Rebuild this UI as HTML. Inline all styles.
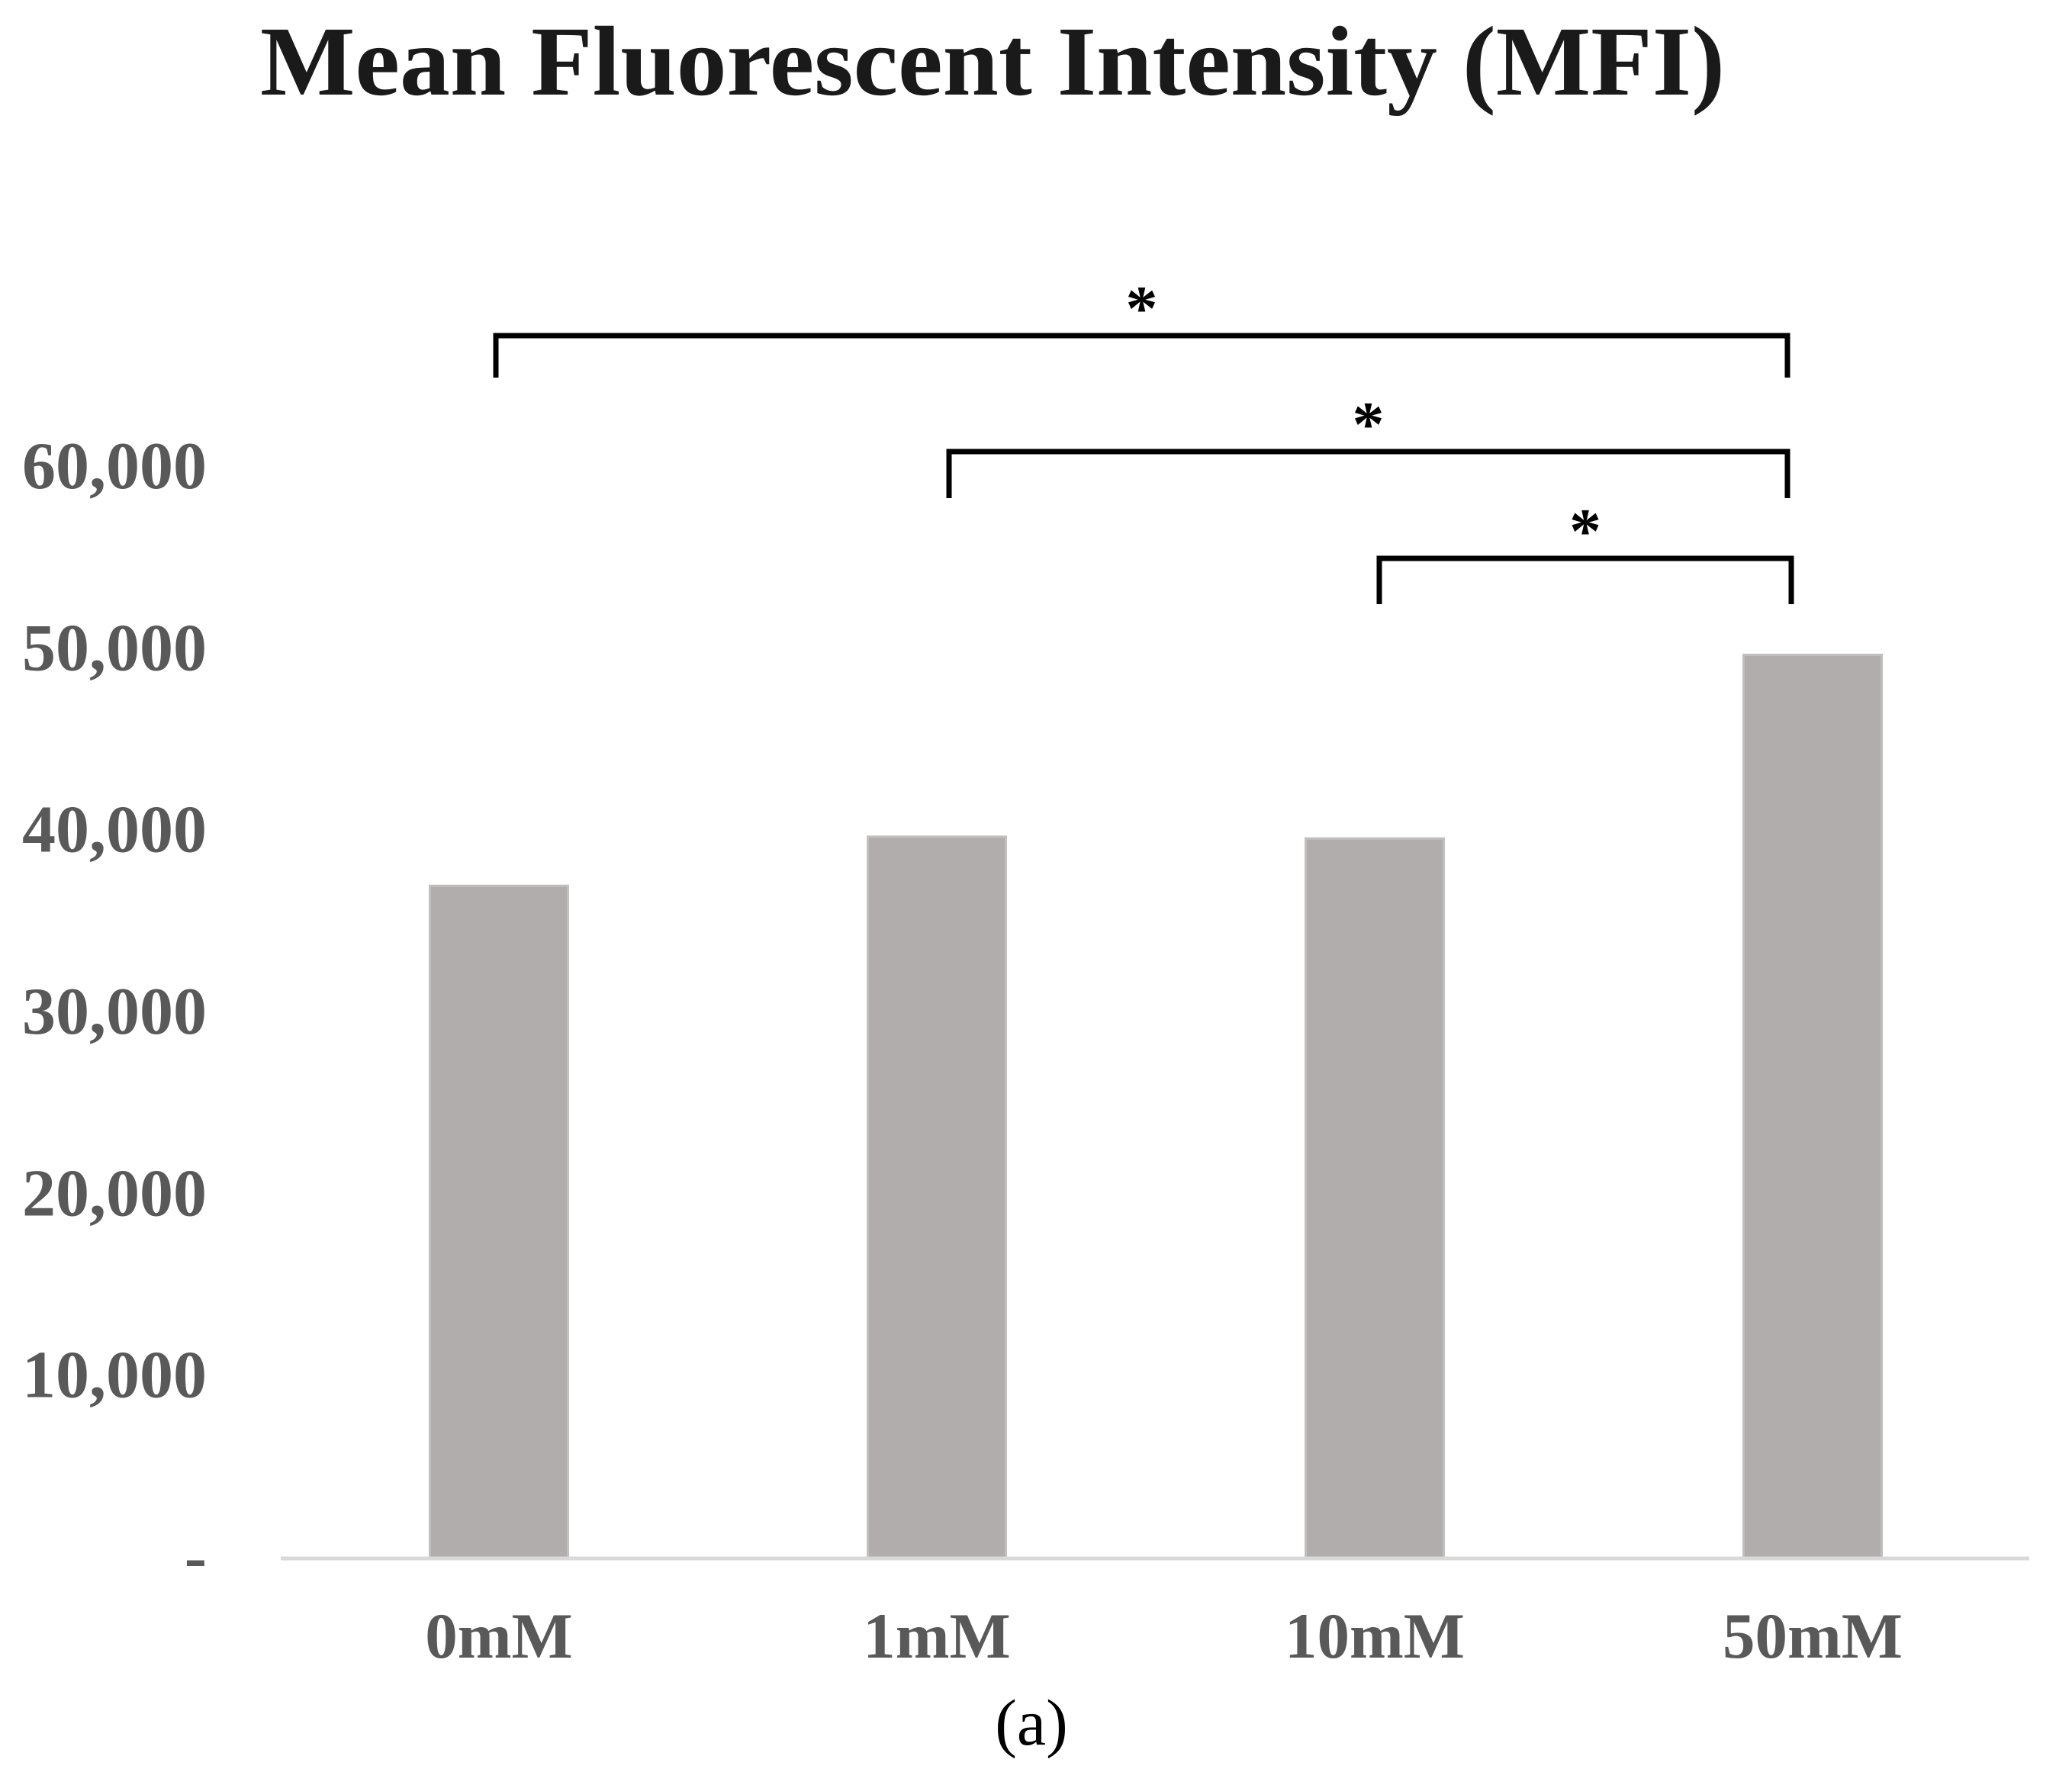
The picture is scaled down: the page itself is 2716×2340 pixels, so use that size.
<!DOCTYPE html>
<html><head><meta charset="utf-8"><style>
html,body{margin:0;padding:0;background:#fff;}
svg{display:block;}
text{font-family:"Liberation Serif",serif;}
</style></head><body>
<svg id="chart" width="2716" height="2340" viewBox="0 0 2716 2340" xmlns="http://www.w3.org/2000/svg">
<text x="1301" y="124" text-anchor="middle" font-size="130" font-weight="bold" fill="#1a1a1a" textLength="1920" lengthAdjust="spacingAndGlyphs">Mean Fluorescent Intensity (MFI)</text>
<g id="yticks"></g>
<g id="bars"></g>
<line x1="368" y1="2043" x2="2660" y2="2043" stroke="#d9d9d9" stroke-width="5"/>
<g id="xlabels"></g>
<g id="brackets"></g>
<text x="1352" y="2287" text-anchor="middle" font-size="86" fill="#000">(a)</text>
</svg>
<script>
const categories = ["0mM","1mM","10mM","50mM"];
const values = [37000, 39700, 39600, 49700];
const tickValues = [0,10000,20000,30000,40000,50000,60000];
const tickLabels = ["-","10,000","20,000","30,000","40,000","50,000","60,000"];
const comparisons = [[0,3],[1,3],[2,3]];
const compLabels = ["*","*","*"];

const NS="http://www.w3.org/2000/svg";
const y0=2043, yScale=(2043-613)/60000;
const yPos=v=>y0-v*yScale;
const xCenter=i=>654+i*574;
const barW=181;
function mk(tag,attrs,parent){const e=document.createElementNS(NS,tag);for(const k in attrs)e.setAttribute(k,attrs[k]);parent.appendChild(e);return e;}

const yt=document.getElementById('yticks');
tickValues.forEach((v,i)=>{
  const t=mk('text',{x:271,y:yPos(v)+27,'text-anchor':'end','font-size':88,'font-weight':'bold',fill:'#595959'},yt);
  
  
  t.textContent=tickLabels[i];
});
const bg=document.getElementById('bars');
values.forEach((v,i)=>{
  const r=mk('rect',{x:xCenter(i)-barW/2,y:yPos(v),width:barW,height:y0-yPos(v),fill:'#b0adac',stroke:'#c2c0bf','stroke-width':3},bg);
  
  
});
const xl=document.getElementById('xlabels');
categories.forEach((c,i)=>{
  const t=mk('text',{x:xCenter(i),y:2173,'text-anchor':'middle','font-size':85,'font-weight':'bold',fill:'#595959'},xl);
  
  
  t.textContent=c;
});
const br=document.getElementById('brackets');
const bracketY=[440,592,732], bracketDrop=[55,61,60];
const leftOff=[-4,16,6], rightOff=[-33,-33,-28];
comparisons.forEach((p,k)=>{
  const xa=xCenter(p[0])+leftOff[k], xb=xCenter(p[1])+rightOff[k];
  const y=bracketY[k];
  const path=mk('path',{d:`M${xa},${y+bracketDrop[k]} L${xa},${y} L${xb},${y} L${xb},${y+bracketDrop[k]}`,fill:'none',stroke:'#000','stroke-width':7},br);
  
  
  const t=mk('text',{x:(xa+xb)/2,y:y-8,'text-anchor':'middle','font-size':84,'font-weight':'bold',fill:'#000'},br);
  
  
  t.textContent=compLabels[k];
});
</script>
</body></html>
